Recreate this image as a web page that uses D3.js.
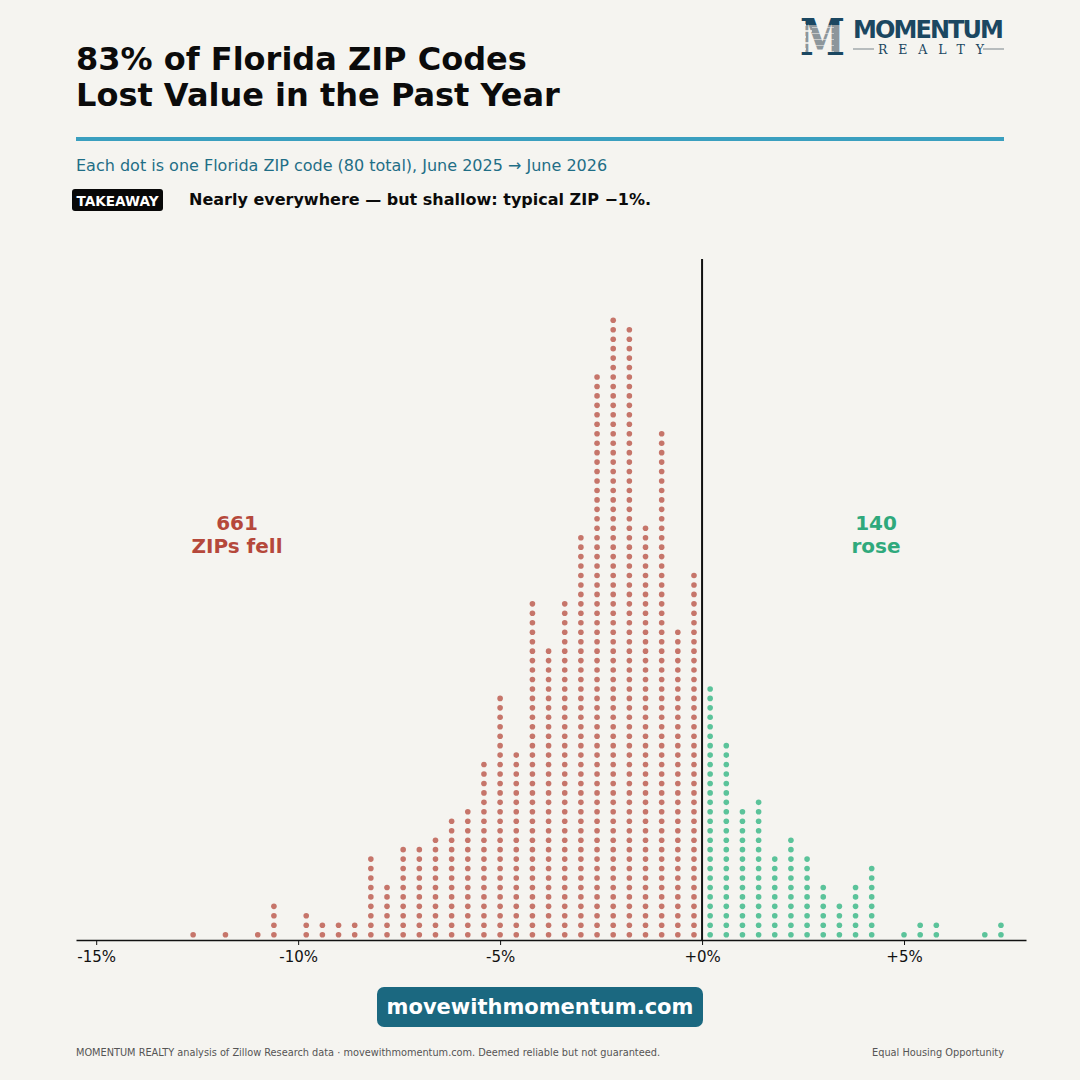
<!DOCTYPE html>
<html>
<head>
<meta charset="utf-8">
<script src="https://cdn.jsdelivr.net/npm/d3@7"></script>
<style>
  html, body { margin: 0; padding: 0; background: #f5f4f0; }
  svg { display: block; font-family: "DejaVu Sans", sans-serif; }
</style>
</head>
<body>
<svg id="chart" width="1080" height="1080"></svg>
<script>
// one-year change in value, binned in 0.4% steps (bin centres, %)
var fellBins   = [-12.6, -11.8, -11.0, -10.6, -9.8, -9.4, -9.0, -8.6, -8.2, -7.8, -7.4, -7.0, -6.6, -6.2, -5.8,
                  -5.4, -5.0, -4.6, -4.2, -3.8, -3.4, -3.0, -2.6, -2.2, -1.8, -1.4, -1.0, -0.6, -0.2];
var fellCounts = [1, 1, 1, 4, 3, 2, 2, 2, 9, 6, 10, 10, 11, 13, 14,
                  19, 26, 20, 36, 31, 36, 43, 60, 66, 65, 44, 54, 33, 39];
var roseBins   = [0.2, 0.6, 1.0, 1.4, 1.8, 2.2, 2.6, 3.0, 3.4, 3.8, 4.2, 5.0, 5.4, 5.8, 7.0, 7.4];
var roseCounts = [27, 21, 14, 15, 9, 11, 9, 6, 4, 6, 8, 1, 2, 2, 1, 2];
var tickValues = [-15, -10, -5, 0, 5];

var svg = d3.select("#chart");

// ---- header ----
svg.append("text").attr("x", 76).attr("y", 70)
  .style("font-size", "32px").style("font-weight", "bold").attr("fill", "#0b0b0b")
  .text("83% of Florida ZIP Codes");
svg.append("text").attr("x", 76).attr("y", 106)
  .style("font-size", "32px").style("font-weight", "bold").attr("fill", "#0b0b0b")
  .text("Lost Value in the Past Year");

// logo
var logo = svg.append("g");
var defs = svg.append("defs");
var grad = defs.append("linearGradient").attr("id", "mgrad")
  .attr("x1", 0).attr("y1", 0).attr("x2", 0).attr("y2", 1);
grad.append("stop").attr("offset", "0%").attr("stop-color", "#1b4761");
grad.append("stop").attr("offset", "28%").attr("stop-color", "#1b4761");
grad.append("stop").attr("offset", "28%").attr("stop-color", "#8d969b");
grad.append("stop").attr("offset", "74%").attr("stop-color", "#8d969b");
grad.append("stop").attr("offset", "74%").attr("stop-color", "#1b4761");
grad.append("stop").attr("offset", "100%").attr("stop-color", "#1b4761");
logo.append("text").attr("x", 800).attr("y", 55)
  .style("font-family", "'DejaVu Serif', serif").style("font-size", "50px").style("font-weight", "bold")
  .attr("textLength", 45).attr("lengthAdjust", "spacingAndGlyphs")
  .attr("fill", "url(#mgrad)").text("M");
[25, 31, 37, 43, 49].forEach(function(yy, i) {
  logo.append("line").attr("x1", 798).attr("x2", 806 + (i % 2) * 6).attr("y1", yy).attr("y2", yy)
    .attr("stroke", "#f5f4f0").attr("stroke-width", 1.6);
  logo.append("line").attr("x1", 812).attr("x2", 834).attr("y1", yy + 2.5).attr("y2", yy + 2.5)
    .attr("stroke", "#f5f4f0").attr("stroke-width", 0.8).attr("opacity", 0.7);
});
logo.append("text").attr("x", 853).attr("y", 38)
  .style("font-size", "24px").style("font-weight", "bold")
  .attr("fill", "#1b4761").attr("textLength", 151).text("MOMENTUM");
logo.append("text").attr("x", 878).attr("y", 54)
  .style("font-family", "'DejaVu Serif', serif").style("font-size", "12.5px")
  .attr("fill", "#1b4761").attr("textLength", 106).text("REALTY");
logo.append("line").attr("x1", 853).attr("x2", 874).attr("y1", 49).attr("y2", 49).attr("stroke", "#8d969b").attr("stroke-width", 1.2);
logo.append("line").attr("x1", 983).attr("x2", 1004).attr("y1", 49).attr("y2", 49).attr("stroke", "#8d969b").attr("stroke-width", 1.2);

svg.append("rect").attr("x", 76).attr("y", 137).attr("width", 928).attr("height", 4).attr("fill", "#3a9fbf");

svg.append("text").attr("x", 76).attr("y", 171)
  .style("font-size", "16px").attr("fill", "#1f6e86")
  .text("Each dot is one Florida ZIP code (80 total), June 2025 \u2192 June 2026");

svg.append("rect").attr("x", 72).attr("y", 189).attr("width", 91).attr("height", 22).attr("rx", 3).attr("fill", "#080808");
svg.append("text").attr("x", 117.5).attr("y", 205.5).attr("text-anchor", "middle")
  .style("font-size", "13.5px").style("font-weight", "bold").attr("fill", "#fff")
  .attr("textLength", 82).attr("lengthAdjust", "spacingAndGlyphs").text("TAKEAWAY");
svg.append("text").attr("x", 189).attr("y", 205)
  .style("font-size", "16px").style("font-weight", "bold").attr("fill", "#0b0b0b")
  .text("Nearly everywhere \u2014 but shallow: typical ZIP \u22121%.");

// ---- chart ----
var x = d3.scaleLinear().domain([-15.5, 8.02]).range([76, 1026]);
var y = d3.scaleLinear().domain([0, 65]).range([934.7, 320.3]);

var dots = [];
fellBins.forEach(function(b, i) {
  d3.range(fellCounts[i]).forEach(function(r) { dots.push({ v: b, row: r, fell: true }); });
});
roseBins.forEach(function(b, i) {
  d3.range(roseCounts[i]).forEach(function(r) { dots.push({ v: b, row: r, fell: false }); });
});

svg.append("g").selectAll("circle").data(dots).enter().append("circle")
  .attr("cx", function(d) { return x(d.v); })
  .attr("cy", function(d) { return y(d.row); })
  .attr("r", 2.8)
  .attr("fill", function(d) { return d.fell ? "#c6756a" : "#5bc39a"; });

var xAxis = d3.axisBottom(x).tickValues(tickValues).tickSize(5).tickSizeOuter(0)
  .tickFormat(function(d) { return (d >= 0 ? "+" : "-") + Math.abs(d) + "%"; });
var gx = svg.append("g").attr("transform", "translate(0,940)").call(xAxis);
gx.select(".domain").attr("stroke", "#111").attr("stroke-width", 1.5);
gx.selectAll(".tick line").attr("stroke", "#111");
gx.selectAll(".tick text").attr("fill", "#111").attr("dy", "0.9em")
  .style("font-size", "15px").style("font-family", "'DejaVu Sans', sans-serif");

svg.append("line").attr("x1", x(0)).attr("x2", x(0)).attr("y1", 259).attr("y2", 940)
  .attr("stroke", "#111").attr("stroke-width", 2);

// annotations
svg.append("text").attr("x", 237).attr("y", 530).attr("text-anchor", "middle")
  .style("font-size", "20px").style("font-weight", "bold").attr("fill", "#b5483b").text("661");
svg.append("text").attr("x", 237).attr("y", 553).attr("text-anchor", "middle")
  .style("font-size", "20px").style("font-weight", "bold").attr("fill", "#b5483b").text("ZIPs fell");
svg.append("text").attr("x", 876).attr("y", 530).attr("text-anchor", "middle")
  .style("font-size", "20px").style("font-weight", "bold").attr("fill", "#2fa97c").text("140");
svg.append("text").attr("x", 876).attr("y", 553).attr("text-anchor", "middle")
  .style("font-size", "20px").style("font-weight", "bold").attr("fill", "#2fa97c").text("rose");

// ---- footer ----
svg.append("rect").attr("x", 377).attr("y", 987).attr("width", 326).attr("height", 40).attr("rx", 7).attr("fill", "#1b6880");
svg.append("text").attr("x", 540).attr("y", 1014).attr("text-anchor", "middle")
  .style("font-size", "21px").style("font-weight", "bold").attr("fill", "#fff").text("movewithmomentum.com");

svg.append("text").attr("x", 76).attr("y", 1056)
  .style("font-size", "10.5px").style("font-family", "'DejaVu Sans Condensed', 'DejaVu Sans', sans-serif")
  .attr("fill", "#555").attr("textLength", 584).attr("lengthAdjust", "spacingAndGlyphs")
  .text("MOMENTUM REALTY analysis of Zillow Research data \u00b7 movewithmomentum.com. Deemed reliable but not guaranteed.");
svg.append("text").attr("x", 1004).attr("y", 1056).attr("text-anchor", "end")
  .style("font-size", "10.5px").style("font-family", "'DejaVu Sans Condensed', 'DejaVu Sans', sans-serif")
  .attr("fill", "#555").attr("textLength", 132).attr("lengthAdjust", "spacingAndGlyphs")
  .text("Equal Housing Opportunity");
</script>
</body>
</html>
